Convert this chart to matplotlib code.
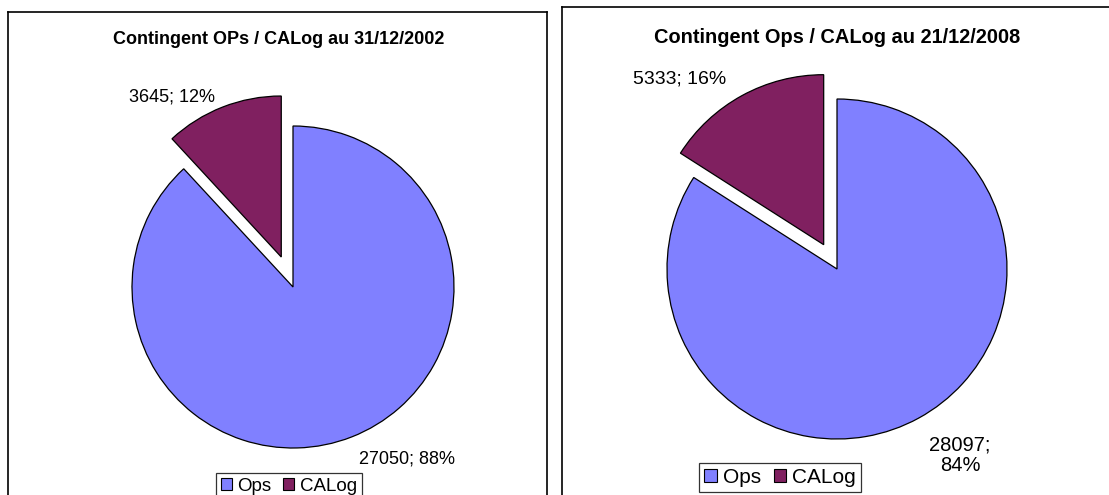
import matplotlib
matplotlib.use("Agg")
import matplotlib.pyplot as plt
from matplotlib.patches import Rectangle

plt.rcParams['font.family'] = ['Liberation Sans', 'DejaVu Sans']

categories = ["Ops", "CALog"]
values_2002 = [27050, 3645]
values_2008 = [28097, 5333]
titles = ["Contingent OPs / CALog au 31/12/2002", "Contingent Ops / CALog au 21/12/2008"]
colors = ["#8080FF", "#802060"]

W, H = 1109, 495
fig = plt.figure(figsize=(W / 100, H / 100), dpi=100)


def make_panel(x0, y0, x1, y1):
    ax = fig.add_axes([x0 / W, 1 - y1 / H, (x1 - x0) / W, (y1 - y0) / H])
    return ax


def set_scale(ax, x0, y0, x1, y1, cx, cy, r):
    ax.set_frame_on(True)
    ax.set_aspect('auto')
    ax.set_xlim((x0 - cx) / r, (x1 - cx) / r)
    ax.set_ylim((cy - y1) / r, (cy - y0) / r)
    ax.set_xticks([])
    ax.set_yticks([])
    for s in ax.spines.values():
        s.set_linewidth(1.2)
        s.set_visible(True)


def px(ax, x, y):
    return ax.transAxes.inverted().transform(fig.transFigure.transform((x / W, 1 - y / H)))


def draw(ax, box, center, vals, title, explode, title_xy, title_fs, lab_fs, labels_pos,
         legend_xy, leg_fs, colspace):
    total = sum(vals)
    ax.pie(vals, explode=[0, explode], startangle=90, counterclock=False,
           colors=colors, radius=1, center=(0, 0),
           wedgeprops=dict(edgecolor="black", linewidth=0.9))
    set_scale(ax, *box, *center)
    tx, ty = px(ax, *title_xy)
    ax.text(tx, ty, title, transform=ax.transAxes, ha="center", va="center",
            fontsize=title_fs, fontweight="bold")
    for v, (lx, ly, fs, txt_fmt) in zip(vals, labels_pos):
        pct = round(100 * v / total)
        txt = txt_fmt.format(v=v, p=pct)
        ax_, ay_ = px(ax, lx, ly)
        ax.text(ax_, ay_, txt, transform=ax.transAxes, ha="center", va="center",
                fontsize=fs, linespacing=1.1)
    handles = [Rectangle((0, 0), 1, 1, facecolor=c, edgecolor="black", linewidth=0.8) for c in colors]
    lx, ly = px(ax, *legend_xy)
    leg = ax.legend(handles, categories, loc="upper left", bbox_to_anchor=(lx, ly),
                    bbox_transform=ax.transAxes, ncol=2, fontsize=leg_fs, frameon=True,
                    fancybox=False, handlelength=0.6, handleheight=0.6, handletextpad=0.3,
                    columnspacing=colspace, borderpad=0.25, borderaxespad=0)
    leg.get_frame().set_edgecolor("black")
    leg.get_frame().set_linewidth(0.9)


box1 = (8, 12, 547, 520)
ax1 = make_panel(*box1)
draw(ax1, box1, (293, 287, 161), values_2002, titles[0], 0.2, (279, 40), 13, 13,
     [(407, 459, 13, "{v}; {p}%"), (172, 97, 13, "{v}; {p}%")], (216, 473), 13.5, 0.6)
ax1.spines['bottom'].set_visible(False)

box2 = (562, 7, 1130, 520)
ax2 = make_panel(*box2)
draw(ax2, box2, (837, 269, 170), values_2008, titles[1], 0.163, (837, 37), 14.4, 14.5,
     [(960, 455, 14.5, "{v};\n{p}%"), (680, 79, 14, "{v}; {p}%")], (699, 463), 15, 0.6)
ax2.spines['bottom'].set_visible(False)
ax2.spines['right'].set_visible(False)

fig.savefig("out.png", dpi=100)
